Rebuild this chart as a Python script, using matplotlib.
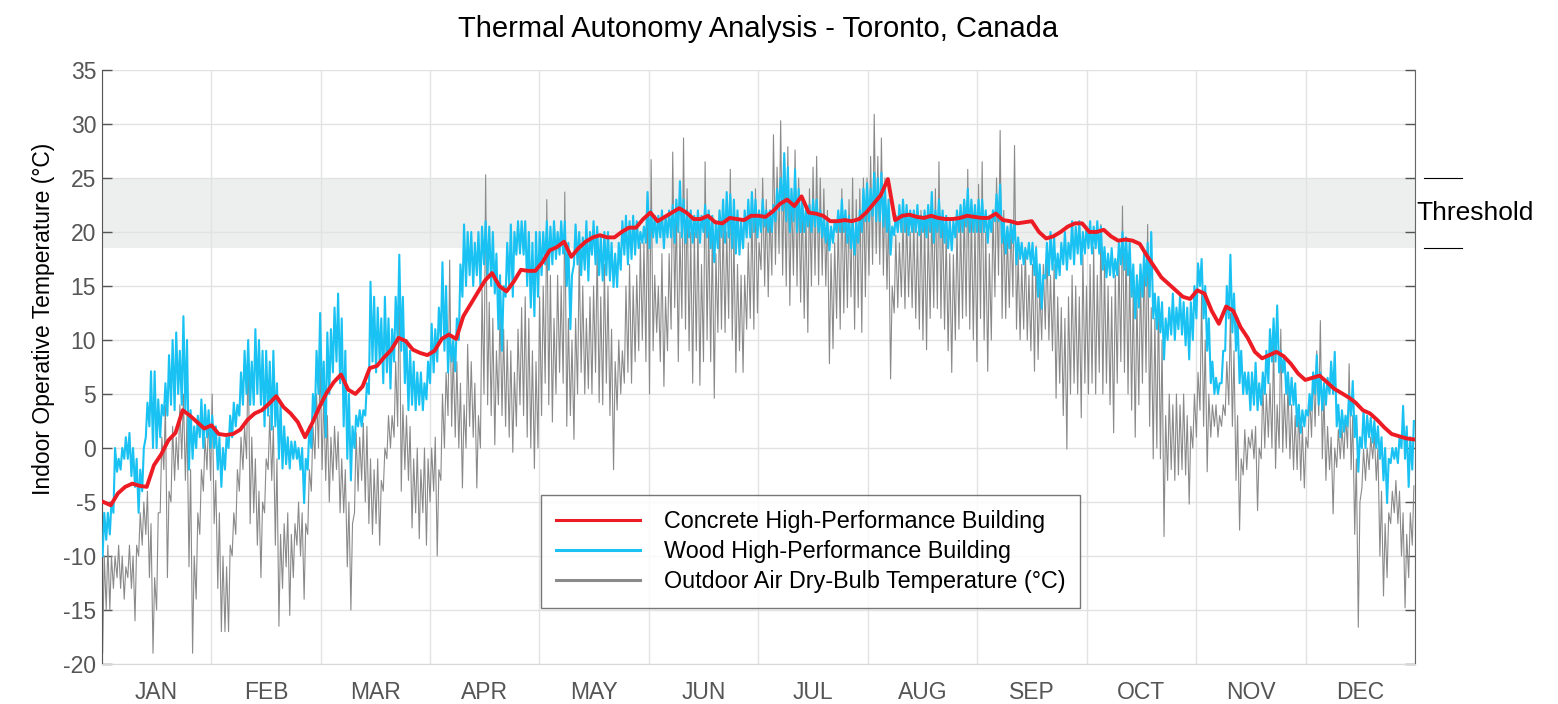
import numpy as np
import matplotlib
matplotlib.use("Agg")
import matplotlib.pyplot as plt
import matplotlib.transforms as mtransforms
from matplotlib.lines import Line2D

plt.rcParams['font.family'] = ['Liberation Sans', 'DejaVu Sans']
plt.rcParams['axes.unicode_minus'] = False

months = ['JAN', 'FEB', 'MAR', 'APR', 'MAY', 'JUN',
          'JUL', 'AUG', 'SEP', 'OCT', 'NOV', 'DEC']
comfort_band = (18.5, 25)

# outdoor dry-bulb, daily minimum / maximum (degC)
outdoor_low = [
    -19, -15, -15, -13, -12, -13, -14, -12, -13, -16, -10, -9, -8, -12, -19, -15, -6, -2, -12, -5, -3, -2, -1, -3, -11, -19, -14, -8, -4, -2, -3,
    -7, -13, -17, -17, -17, -10, -8, -4, -2, -1, -7, -6, -9, -12, -6, -2, -3, -9, -16.5, -13, -11, -15.5, -12, -9, -10, -14, -8, -4, -1, 0,
    -2, -3, -5, -3, -2, -6, -6, -11, -15, -6, -4, -3, -5, -7, -8, -7, -9, -4, -1, 0, 1, 2, -4, -2, -3, -7.4, -6, -8.4, -6, -9,
    -5, -4, -10, -3, 0, 3, 2, 1, 0, -3.7, 0, 2, 1, -3.7, 0, 5, 4, 3, 0.3, 4, 3, 2, 1, -0.4, 2, 4, 3, 1, 0, -1.9, 0,
    3, 6, 4, 2.4, 5, 7, 6, 2, 3, 0.8, 5, 7, 5, 5.5, 5, 7, 4.2, 4, 6, 3, -2, 3.5, 5, 6, 7, 6, 8, 9, 10, 8,
    5, 9, 10.7, 8, 5.7, 9, 11, 13, 8, 12, 11, 9, 6, 9, 5.8, 8, 10, 8, 4.6, 10.7, 11, 10.7, 12, 10, 7, 9, 7, 11, 12, 11, 12.5,
    16.5, 15, 14, 16, 17, 18, 16, 15, 13.2, 16, 15, 13.5, 12, 10.7, 15, 16, 15.1, 16, 15, 7.8, 9.2, 12, 11, 12.5, 13, 14, 11, 13, 10.7, 14,
    16, 17, 18, 17, 16, 14.7, 6.4, 12.5, 13, 14, 12.9, 14, 13, 12, 11, 10, 9.1, 12, 13, 12.9, 12, 11, 9, 7, 10, 11, 12, 12.2, 11, 10, 8,
    12, 10, 7.1, 10, 14, 16, 12, 12, 13, 14, 11, 10, 11, 10, 9, 7.1, 8.2, 10, 11, 10, 9, 4.6, 6, 3, -0.1, 5, 6, 5, 2.8, 6,
    5, 6, 5, 7, 5, 6, 4, 1.4, 6, 8, 7, 5, 3.5, 1, 4, 6, 7, 2, -1, 0, -1, -8.2, -3, -2, -3, -2.5, -2, -2.5, -5.2, 0, 1,
    3.5, 2, -2.2, 1, 2, 1, 2, 3, 4, 2, -3, -7.6, -2.5, -2, 0, -1, -5.8, -1, 0, 1, 0, -1.9, 0, -0.4, 0, -1, -2, -2, -3, -3.7,
    0, 1, 2, 3, -1, -3, -2, -6.1, -1.8, -1, -1, 0, -2, -8, -16.6, -3.7, -3, -2, -1, -3, -10, -13.7, -12, -7, -6, -7, -10, -14.8, -12, -9,
]
outdoor_high = [
    -10, -9, -10, -10, -9, -10, -11, -9, -10, -9, -6, -5, -4, -7, -12, -6, 1, 4, -4, 2, 1, 4, 5, 3, -2, -10, -6, -2, 1, 3, 5,
    -3, -6, -10, -11, -9, -6, -2, 1, 2, 9.5, 1, -1, -4, -5, -1, 3, 2, -1, -8, -7, -6, -8, -7, -5, -6, -7, -2, 2, 5, 8,
    5, 3, 1, 2, 1.5, -1, -2, -5, -7, 1.4, 1, 2.3, 2, -1, -2, -1, -3, 0, 3, 3, 8, 16.3, 4, 3, 2, -1, 0, -2, 0, -1,
    0, 1, -2, 5, 7, 17.4, 9, 8, 6, 4, 9.6, 8, 6, 3, 14.7, 25.3, 13.5, 12, 9, 13, 11, 10, 9, 7, 11, 13, 14, 12, 9, 8, 14,
    15, 23, 16, 12, 16, 15, 23.7, 12, 10, 12, 17.9, 15, 12, 14, 15, 18.6, 14, 17, 15, 11, 8, 10, 9, 15, 17, 15, 16, 19, 19, 23.7,
    26.7, 16, 15, 18, 14, 18, 27.4, 22, 20, 28.7, 24, 20, 20, 21, 17, 26.5, 21, 20, 18, 22, 21, 20, 25.8, 20, 17, 16, 16, 19, 22, 24, 19,
    25, 23, 22, 29, 26, 30.3, 26, 27.9, 24, 27.6, 25, 23, 22, 24, 26, 27, 25, 24, 22, 18, 19, 21, 24, 22, 23, 25, 23, 24, 25, 25,
    27, 30.9, 27, 28.7, 25, 22, 15, 19.7, 19, 21, 21.6, 20, 21, 20, 22, 21, 20.7, 22, 24, 26.5, 22, 20, 18, 17.9, 20.7, 21, 22, 25.8, 22, 21, 24.4,
    26.5, 20, 18, 22, 25, 29.4, 22, 20, 21, 28, 18, 17, 18.6, 16, 17, 18.7, 15, 17, 18.7, 16, 17, 14, 13, 12, 14, 16, 15, 14, 17.9, 15,
    17, 18.6, 16, 20.7, 17, 15, 14, 16, 18, 22.4, 19, 17, 15, 14, 16, 18, 20.7, 13, 12, 14, 10, 3, 5, 4, 5, 4, 5, 3, 2, 5, 7,
    14.3, 10, 5, 4, 4, 3, 4, 8, 12.5, 9, 3, -1, 1.7, 1, 1.7, 2, 0, 6, 5, 6, 10, 4, 11, 5, 6, 4, 3, 4, 2, 1,
    5, 7, 9, 11.8, 5, 2, 1, 0, 1.7, 2, 3, 7.8, 3, -1, -5, -0.1, 0, 1, 1.4, 0, -4, -7, -6, -4, -3, -4, -6, -8, -6, -3.5,
]

# wood building, daily minimum / maximum operative temperature (degC)
wood_low = [
    -10, -8.5, -8, -6, -2.2, -2, -1, -1, -2.6, -3.6, -6, -4, 1, 2, 0, 0, 1, 3, 3, 4, 3.5, 5, 4, 3.5, -2, -1, 0, 1, 0, 1,
    0, 0, -2, -3.6, -2, 0, 1, 2, 3, 4, 5, 4, 4, 5, 4, 2, 3, 1.7, 2, -1, -1.9, -1.5, -1.9, -1, -1, -2, -5.1, -2, 0, 3, 5,
    4, 1, 5, 7, 8, 6, 2, -1, -3, 0, 2, 2, 3, 5, 8, 7, 8, 6, 7, 5.5, 8, 10, 9, 6, 3.5, 4, 3.5, 4, 3.5, 4.5,
    6, 7, 8, 10, 9, 7, 8, 7.1, 10, 14, 15, 16, 15, 16, 15, 17, 16, 15, 14.3, 11, 9, 14, 15, 14, 17.9, 18, 17.9, 15, 13, 12.2, 14,
    16, 17, 16.5, 17, 17.5, 17.9, 18, 15, 11, 17, 17, 16, 16.5, 15.5, 17.9, 17, 16, 15.5, 16, 15.5, 14.9, 14.9, 16.5, 17.9, 17, 17.5, 17.9, 18.5, 19, 19,
    18.5, 19.5, 19, 19.5, 18.5, 19.5, 19.5, 19, 20, 19.5, 19, 19.5, 19, 19.5, 19, 20, 19.5, 18.5, 17.2, 18.5, 19.5, 19, 19.5, 18.5, 18, 17.9, 18.5, 19.5, 19.5, 20, 19.5,
    20, 20.5, 20, 20, 21, 22, 22, 21, 20, 21, 20, 20, 20, 20.5, 20, 20.5, 20, 19.5, 19, 18.3, 19, 20, 20, 20, 19, 18.5, 17.9, 19, 20, 21,
    21, 21.5, 21, 21, 20.5, 20, 17.9, 19.7, 20, 20, 20, 19.7, 20, 20, 19.7, 20, 19.5, 20, 19, 20, 19.5, 19, 18.5, 18.3, 19.5, 20, 20, 20.5, 20, 20, 20,
    20, 20, 19, 20, 21, 21, 19, 18, 18.5, 19, 17, 17.5, 17, 17.5, 17, 16, 14, 12.9, 15.7, 16, 16.5, 15.7, 16, 17, 16.5, 17.5, 17, 18, 17, 18,
    18.5, 18, 18.5, 18, 16.5, 15.8, 16, 15.8, 16, 17, 16.5, 16, 14, 12, 13, 14, 15, 14, 12, 11, 10.7, 8.2, 10, 10.5, 10, 11, 10.5, 9.5, 8.2, 10, 12,
    15, 12, 9, 6, 5, 5, 6, 9, 12, 10.7, 9, 6, 5, 5, 3.5, 4, 3.5, 4, 5, 6, 8, 8, 7, 7, 5, 4, 4, 2, 1.4, 2,
    3, 3.5, 5, 4, 3.5, 4, 5, 5, 2, 1, 1.5, 2, 3, 1, -2.2, 0, 0, 1, 0.5, 0, -1, -3, -5.1, -1.4, -1, -1.4, 0, -1, -3.6, -2,
]
wood_high = [
    -6, -6, -5, 0, -1, 0, 1, 1.4, 0, -1, -2, 0, 4.2, 7.1, 7.1, 4.5, 4, 6, 8.6, 10, 10.7, 9, 12.2, 10, 3.5, 2, 3, 4.5, 4, 3.5,
    3, 2, 1, 0, 1, 3, 4.2, 4, 7, 9, 10, 8, 11, 10, 9, 9, 8, 9, 6, 4, 2, 1, 0.6, 0.6, 0, 0, -1, 2, 5, 9, 12.5,
    8, 10.7, 11, 13, 14.3, 12, 9, 5, 2, 3, 3.5, 3.5, 6, 15.4, 14, 13, 12, 14, 12, 11, 14, 17.9, 14, 10, 9, 8, 7, 7, 6, 8,
    11.5, 11, 13, 17.2, 15, 10.7, 10, 12, 17, 20.7, 20, 20, 19, 20, 20.5, 21, 20.5, 20, 18, 16, 15, 19, 20.7, 20, 21, 21, 21, 20, 19, 20, 20,
    20, 21, 20.5, 21, 20, 21, 21, 19, 16, 20.7, 20, 19.5, 21, 20, 21, 20.5, 19.5, 20, 20, 19, 18, 19, 21, 21.5, 21, 21.5, 21, 20, 20.5, 23.7,
    22, 21.5, 21.5, 22, 21.5, 22, 22.5, 23, 24.7, 23, 22, 22, 21.5, 22, 21.5, 22.5, 22, 21.5, 21, 22, 23, 23.7, 23.5, 23, 22, 21, 22, 23, 23.7, 23, 22,
    23, 22, 22, 22.5, 24, 25, 27.3, 26, 24, 25.8, 24, 23, 22, 22.5, 23, 23, 22, 21.5, 21, 20.5, 21, 22, 23, 22, 21.5, 21, 21, 22, 24, 24.5,
    24, 25.5, 25, 25.5, 24, 23, 20.5, 21.5, 22.5, 23, 22.5, 22, 22, 22.5, 21.5, 22, 22.5, 23.7, 22, 23, 22, 21.5, 21, 21, 22, 22.5, 23, 24, 23, 22.5, 23,
    23, 22, 21.5, 22, 23.5, 24.4, 21, 20.5, 21, 21, 19.5, 19, 18.5, 19, 19, 18.5, 17, 16, 19, 20, 19.5, 18, 19, 20, 19, 21, 20.5, 21, 20, 20.5,
    21, 20.5, 21, 20.5, 18.6, 18, 18.5, 17.5, 19, 20, 19.5, 19, 17, 16, 17, 18, 19, 20, 14.3, 14, 13.5, 12, 13, 14.3, 13, 14, 13.5, 13, 13.5, 15, 17.1,
    17.5, 15, 12, 8, 6.5, 6, 9, 15, 17.9, 14.3, 12, 9, 7, 7, 7, 7.9, 6, 7, 9, 11, 12, 13.2, 9, 8.5, 7, 6.5, 6, 4, 3.5, 3.5,
    5, 7, 8.6, 7, 6, 6.5, 8, 8.9, 4, 3.5, 3, 5, 6.2, 3, 1, 3.5, 3, 2.8, 2.5, 2, 1, 0, -1, 0, 0, 1, 3.9, 2, 1, 2.5,
]

# concrete building, operative temperature every second day (degC)
concrete = [
    -5, -5.3, -4.2, -3.6, -3.3, -3.5, -3.6, -1.6, -0.6, 0.7,
    1.4, 3.5, 3.0, 2.4, 1.8, 2.1, 1.3, 1.2, 1.3, 1.7,
    2.6, 3.2, 3.5, 4.1, 4.8, 3.8, 3.2, 2.4, 1.0, 2.3,
    3.8, 5.1, 6.1, 6.8, 5.4, 5.0, 5.7, 7.4, 7.6, 8.4,
    9.1, 10.2, 9.9, 9.1, 8.8, 8.6, 9.0, 10.1, 10.5, 10.1,
    12.2, 13.3, 14.4, 15.5, 16.2, 15.0, 14.5, 15.4, 16.5, 16.4,
    16.4, 17.2, 18.3, 18.6, 19.1, 17.7, 18.5, 19.1, 19.5, 19.7,
    19.5, 19.5, 20.0, 20.4, 20.4, 21.2, 21.8, 21.0, 21.4, 21.8,
    22.2, 21.8, 21.2, 21.2, 21.5, 20.9, 20.8, 21.3, 21.2, 21.1,
    21.5, 21.5, 21.4, 21.9, 22.6, 23.0, 22.4, 23.3, 21.8, 21.7,
    21.5, 21.0, 21.0, 21.1, 21.0, 21.2, 21.8, 22.6, 23.4, 24.9,
    21.1, 21.5, 21.6, 21.4, 21.3, 21.5, 21.3, 21.2, 21.2, 21.3,
    21.5, 21.4, 21.3, 21.3, 21.7, 21.1, 21.0, 20.8, 20.9, 21.0,
    20.0, 19.4, 19.6, 20.0, 20.5, 20.8, 20.8, 20.0, 20.0, 20.2,
    19.6, 19.2, 19.3, 19.2, 18.9, 17.8, 16.8, 15.8, 15.2, 14.6,
    14.0, 13.8, 14.6, 14.3, 12.7, 11.5, 13.1, 12.7, 11.2, 10.2,
    8.9, 8.3, 8.6, 8.9, 8.5, 7.8, 6.9, 6.3, 6.5, 6.7,
    6.1, 5.5, 5.1, 4.7, 4.2, 3.5, 3.2, 2.6, 1.9, 1.3,
    1.1, 0.9, 0.8,
]

RED = '#ed1c24'
BLUE = '#19c2f2'
GREY = '#8a8a8a'

days = np.arange(len(outdoor_low))
x_daily = np.column_stack([days + 0.25, days + 0.7]).ravel()
outdoor = np.column_stack([outdoor_low, outdoor_high]).ravel()
wood = np.column_stack([wood_low, wood_high]).ravel()
x_concrete = np.arange(len(concrete)) * 2 + 0.5

fig = plt.figure(figsize=(15.58, 7.04), dpi=100)
ax = fig.add_axes([0.0653, 0.0568, 0.8429, 0.8438])

ax.axhspan(*comfort_band, color='#edefee', zorder=0.2, lw=0)
ax.plot(x_daily, outdoor, color=GREY, lw=0.8, zorder=2)
ax.plot(x_daily, wood, color=BLUE, lw=1.5, zorder=3)
ax.plot(x_concrete, concrete, color=RED, lw=2.8, zorder=4)

ax.set_xlim(0, 365)
ax.set_ylim(-20, 35)
ax.set_yticks(np.arange(-20, 36, 5))
month_len = 365 / 12
ax.set_xticks(np.arange(13) * month_len)
ax.set_xticklabels([])
ax.set_xticks(np.arange(12) * month_len + month_len / 2, minor=True)
ax.set_xticklabels(months, minor=True)
ax.tick_params(axis='x', which='both', length=0)
ax.tick_params(axis='x', which='minor', pad=12, labelsize=16.5, labelcolor='#555555')
ax.tick_params(axis='y', direction='in', length=7, width=1, color='#555555',
               right=True, labelsize=16.5, labelcolor='#555555', pad=4)

ax.set_axisbelow(True)
ax.grid(True, which='major', color='#e2e2e2', lw=1)
ax.spines['top'].set_visible(False)
ax.spines['bottom'].set_color('#d8d8d8')
ax.spines['left'].set_color('#555555')
ax.spines['right'].set_color('#666666')

ax.set_ylabel('Indoor Operative Temperature (°C)', fontsize=16.5)
ax.yaxis.set_label_coords(-0.0356, 0.581)
ax.set_title('Thermal Autonomy Analysis - Toronto, Canada', fontsize=21, pad=24)

# threshold marker outside the right spine
trans = mtransforms.blended_transform_factory(ax.transAxes, ax.transData)
for yv in comfort_band:
    ax.plot([1.007, 1.036], [yv, yv], transform=trans, color='black', lw=0.8, clip_on=False)
ax.text(1.001, np.mean(comfort_band), 'Threshold', transform=trans, fontsize=19,
        va='center', ha='left')

handles = [Line2D([], [], color=RED, lw=2.2),
           Line2D([], [], color=BLUE, lw=2.2),
           Line2D([], [], color=GREY, lw=2.2)]
labels = ['Concrete High-Performance Building',
          'Wood High-Performance Building',
          'Outdoor Air Dry-Bulb Temperature (°C)']
leg = ax.legend(handles, labels, loc='upper left', bbox_to_anchor=(0.3345, 0.2845),
                borderaxespad=0, fontsize=16.8, frameon=True, fancybox=False,
                edgecolor='#555555', handlelength=3.6, handletextpad=1.0,
                borderpad=0.65, labelspacing=0.3)
leg.get_frame().set_linewidth(1)
leg.set_zorder(10)

fig.savefig('out.png', dpi=100)
